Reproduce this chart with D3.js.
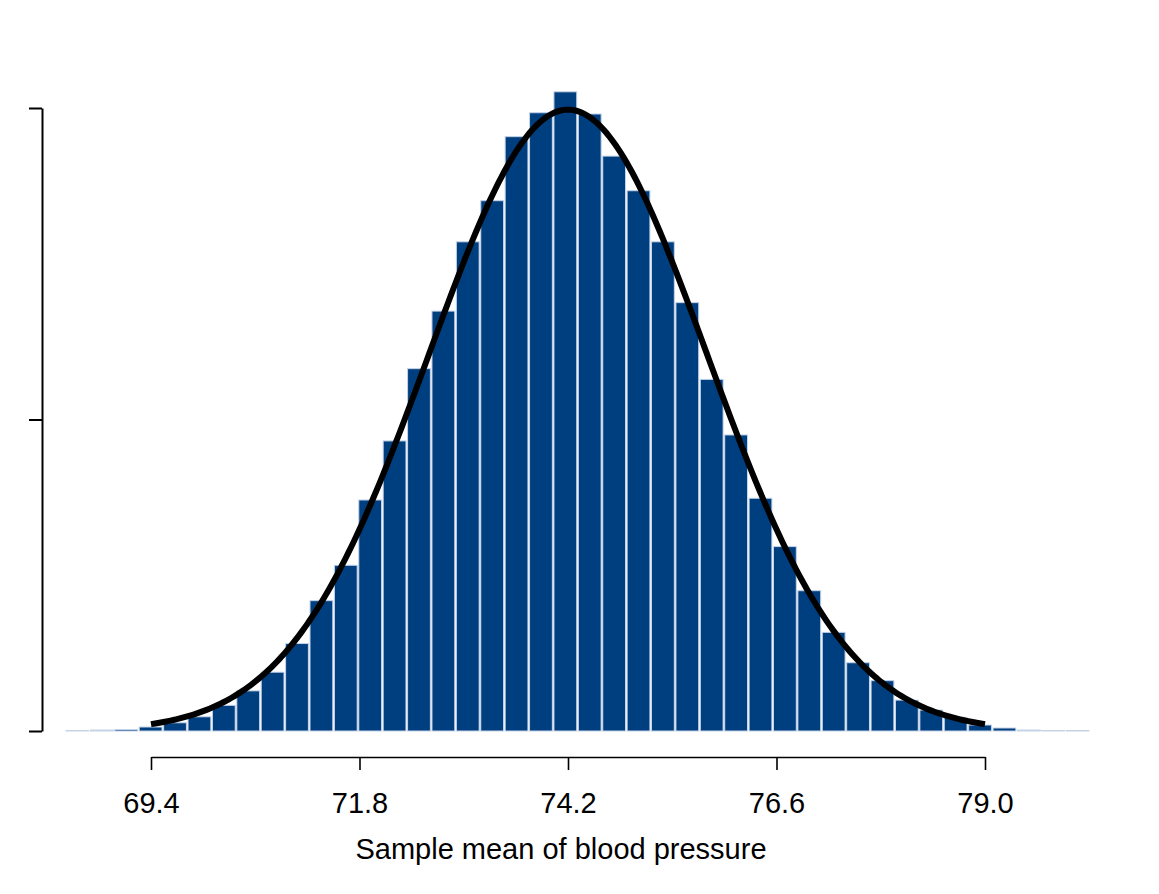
<!DOCTYPE html>
<html>
<head>
<meta charset="utf-8">
<script src="https://cdn.jsdelivr.net/npm/d3@7"></script>
<style>
  html, body { margin: 0; padding: 0; background: #ffffff; }
  svg { display: block; }
  text { font-family: "Liberation Sans", Arial, Helvetica, sans-serif; }
</style>
</head>
<body>
<svg id="chart" width="1159" height="894"></svg>
<script>
// ---- data ----
const binStart = 68.413;           // left edge of first histogram bin
const binWidth = 0.2808;           // width of each bin
const binDensity = [
  0.0002, 0.0004, 0.0006, 0.0016, 0.0033, 0.0057, 0.0103, 0.0161, 0.0236, 0.0351,
  0.0523, 0.0665, 0.0927, 0.1164, 0.1454, 0.1685, 0.1963, 0.2128, 0.2385, 0.2481,
  0.2565, 0.2476, 0.2307, 0.2168, 0.1963, 0.1719, 0.1411, 0.1188, 0.0934, 0.0740,
  0.0563, 0.0396, 0.0274, 0.0202, 0.0124, 0.0084, 0.0055, 0.0024, 0.0012, 0.0004,
  0.0002, 0.0001
];
const xTicks = [69.4, 71.8, 74.2, 76.6, 79.0];
const xTickLabels = ["69.4", "71.8", "74.2", "76.6", "79.0"];
const yTicks = [0, 0.125, 0.25];
const curveMean = 74.2;
const curveSd = 1.6;
const xLabel = "Sample mean of blood pressure";

// ---- scales ----
const svg = d3.select("#chart");
const x = d3.scaleLinear().domain([69.4, 79.0]).range([151, 985]);
const y = d3.scaleLinear().domain([0, 0.25]).range([731, 108]);

const bins = binDensity.map((d, i) => ({
  x0: binStart + i * binWidth,
  x1: binStart + (i + 1) * binWidth,
  d: d
}));

// ---- bars ----
svg.append("g")
  .selectAll("rect")
  .data(bins)
  .join("rect")
  .attr("x", b => x(b.x0) + 0.8)
  .attr("width", b => x(b.x1) - x(b.x0) - 1.6)
  .attr("y", b => y(b.d))
  .attr("height", b => y(0) - y(b.d))
  .attr("fill", "#003f7f")
  .attr("stroke", "#c5d3e8")
  .attr("stroke-width", 1);

// ---- normal curve ----
const curvePts = d3.range(0, 301).map(i => {
  const xv = xTicks[0] + (xTicks[xTicks.length - 1] - xTicks[0]) * i / 300;
  const z = (xv - curveMean) / curveSd;
  return [xv, Math.exp(-0.5 * z * z) / (curveSd * Math.sqrt(2 * Math.PI))];
});
svg.append("path")
  .datum(curvePts)
  .attr("fill", "none")
  .attr("stroke", "#000")
  .attr("stroke-width", 6)
  .attr("stroke-linecap", "butt")
  .attr("d", d3.line().x(p => x(p[0])).y(p => y(p[1])));

// ---- axes ----
const xAxis = d3.axisBottom(x)
  .tickValues(xTicks)
  .tickFormat((d, i) => xTickLabels[i])
  .tickSize(13)
  .tickSizeOuter(0)
  .tickPadding(22);
const gx = svg.append("g").attr("transform", "translate(0,757)").call(xAxis);
gx.select(".domain").attr("stroke", "#000").attr("stroke-width", 1.6);
gx.selectAll(".tick line").attr("stroke", "#000").attr("stroke-width", 1.6);
gx.selectAll(".tick text")
  .attr("font-size", 29)
  .attr("fill", "#000")
  .attr("dy", "0.71em")
  .style("font-family", "'Liberation Sans', Arial, Helvetica, sans-serif");

const yAxis = d3.axisLeft(y)
  .tickValues(yTicks)
  .tickFormat("")
  .tickSize(13)
  .tickSizeOuter(0);
const gy = svg.append("g").attr("transform", "translate(42,0)").call(yAxis);
gy.select(".domain").attr("stroke", "#000").attr("stroke-width", 2);
gy.selectAll(".tick line").attr("stroke", "#000").attr("stroke-width", 2);

// ---- axis title ----
svg.append("text")
  .attr("x", 561)
  .attr("y", 859)
  .attr("text-anchor", "middle")
  .attr("font-size", 29)
  .attr("fill", "#000")
  .text(xLabel);
</script>
</body>
</html>
